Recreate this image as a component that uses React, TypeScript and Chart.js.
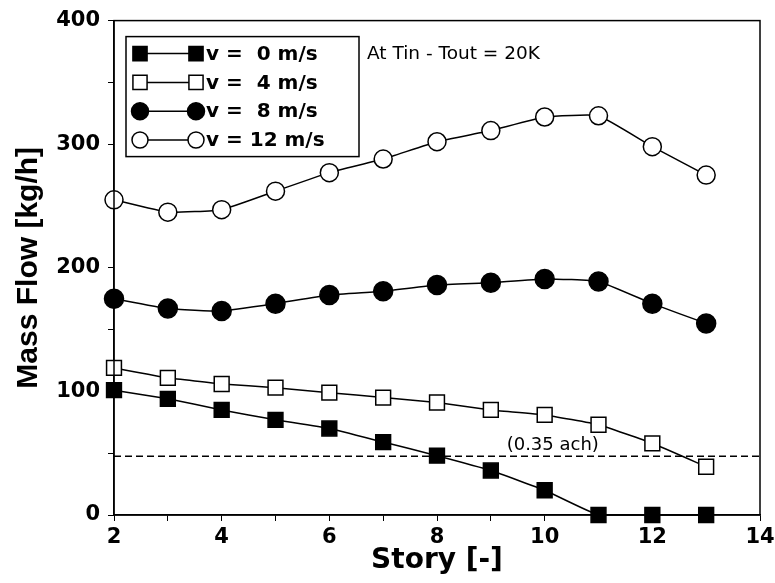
import React, { useEffect, useRef } from "react";
import { Chart, registerables } from "chart.js";

Chart.register(...registerables);

const stories = [2, 3, 4, 5, 6, 7, 8, 9, 10, 11, 12, 13];
const v0 = [101, 94, 85, 77, 70, 59, 48, 36, 20, 0, 0, 0];
const v4 = [119, 111, 106, 103, 99, 95, 91, 85, 81, 73, 58, 39];
const v8 = [175, 167, 165, 171, 178, 181, 186, 188, 191, 189, 171, 155];
const v12 = [255, 245, 247, 262, 277, 288, 302, 311, 322, 323, 298, 275];
const seriesLabels = ["v =  0 m/s", "v =  4 m/s", "v =  8 m/s", "v = 12 m/s"];
const achLevel = 47.5;
const achRange = [2, 14];
const achLabel = "(0.35 ach)";
const noteText = "At Tin - Tout = 20K";
const xTitle = "Story [-]";
const yTitle = "Mass Flow [kg/h]";

const WIDE = "'DejaVu Sans', Verdana, sans-serif";
const ARIAL = "'Liberation Sans', Arial, Helvetica, sans-serif";

export default function App() {
  const ref = useRef<HTMLCanvasElement | null>(null);

  useEffect(() => {
    if (!ref.current) return;
    const mk = (vals: number[]) => stories.map((s, i) => ({ x: s, y: vals[i] }));
    const styles = [
      { data: v0, pointStyle: "rect", bg: "#000", r: 10.5, lr: 10 },
      { data: v4, pointStyle: "rect", bg: "#fff", r: 10.5, lr: 10 },
      { data: v8, pointStyle: "circle", bg: "#000", r: 9.5, lr: 8.5 },
      { data: v12, pointStyle: "circle", bg: "#fff", r: 9, lr: 8 },
    ];
    const datasets: any[] = styles.map((s, i) => ({
      label: seriesLabels[i],
      data: mk(s.data),
      borderColor: "#000",
      borderWidth: 1.5,
      pointStyle: s.pointStyle,
      pointRadius: s.r,
      legendRadius: s.lr,
      pointBackgroundColor: s.bg,
      pointBorderColor: "#000",
      pointBorderWidth: 1.5,
      tension: 0.12,
      clip: false,
    }));
    datasets.unshift({
      label: "ach",
      data: achRange.map((x) => ({ x, y: achLevel })),
      borderColor: "#000",
      borderWidth: 1.5,
      borderDash: [7, 4],
      pointRadius: 0,
      tension: 0,
    });

    function drawMarker(ctx: any, style: string, radius: number, x: number, y: number) {
      ctx.beginPath();
      if (style === "rect") {
        const s = radius / Math.SQRT2;
        ctx.rect(x - s, y - s, 2 * s, 2 * s);
      } else {
        ctx.arc(x, y, radius, 0, Math.PI * 2);
      }
      ctx.fill();
      ctx.stroke();
    }

    const overlay = {
      id: "overlay",
      afterDraw(chart: any) {
        const ctx = chart.ctx;
        const ca = chart.chartArea;
        const xs = chart.scales.x;
        const ys = chart.scales.y;
        ctx.save();
        // frame
        ctx.strokeStyle = "#000";
        ctx.lineWidth = 1.5;
        ctx.strokeRect(ca.left, ca.top, ca.right - ca.left, ca.bottom - ca.top);
        // annotations
        ctx.fillStyle = "#000";
        ctx.font = `18px ${WIDE}`;
        ctx.textAlign = "center";
        ctx.textBaseline = "middle";
        ctx.fillText(achLabel, xs.getPixelForValue(10.15), ys.getPixelForValue(56.5));
        ctx.textAlign = "left";
        ctx.font = `18.5px ${WIDE}`;
        ctx.fillText(noteText, ca.left + 253, ca.top + 34);
        // legend
        const bx = ca.left + 12;
        const by = ca.top + 16;
        const bw = 233;
        const bh = 120;
        ctx.fillStyle = "#fff";
        ctx.fillRect(bx, by, bw, bh);
        ctx.strokeStyle = "#000";
        ctx.lineWidth = 1.5;
        ctx.strokeRect(bx, by, bw, bh);
        const dsList = chart.data.datasets.slice(1);
        dsList.forEach((ds: any, i: number) => {
          const yy = by + 17 + i * 28.8;
          const x1 = bx + 14;
          const x2 = bx + 70;
          ctx.strokeStyle = "#000";
          ctx.lineWidth = 1.5;
          ctx.beginPath();
          ctx.moveTo(x1, yy);
          ctx.lineTo(x2, yy);
          ctx.stroke();
          [x1, x2].forEach((px) => {
            ctx.fillStyle = ds.pointBackgroundColor;
            ctx.strokeStyle = "#000";
            ctx.lineWidth = 1.5;
            drawMarker(ctx, ds.pointStyle, ds.legendRadius, px, yy);
          });
          ctx.fillStyle = "#000";
          ctx.font = `bold 20px ${WIDE}`;
          ctx.textAlign = "left";
          ctx.textBaseline = "middle";
          ctx.fillText(ds.label, bx + 80, yy + 1);
        });
        ctx.restore();
      },
    };

    const chart = new Chart(ref.current, {
      type: "line",
      data: { datasets },
      plugins: [overlay],
      options: {
        animation: false,
        responsive: false,
        maintainAspectRatio: false,
        layout: { padding: { left: 0, right: 0, top: 19, bottom: 0 } },
        plugins: { legend: { display: false }, tooltip: { enabled: false } },
        scales: {
          x: {
            type: "linear",
            min: 2,
            max: 14,
            afterFit: (s: any) => {
              s.height = 68;
              s.paddingRight = 15;
              s.paddingLeft = 0;
            },
            grid: { drawOnChartArea: false, tickLength: 6, color: "#000", lineWidth: 1 },
            border: { color: "#000", width: 1.5 },
            ticks: {
              stepSize: 1,
              color: "#000",
              padding: 4,
              maxRotation: 0,
              autoSkip: false,
              font: { family: WIDE, size: 21, weight: "bold" },
              callback: (v: any) => (Number(v) % 2 === 0 ? String(v) : ""),
            },
            title: {
              display: true,
              text: xTitle,
              color: "#000",
              font: { family: WIDE, size: 28, weight: "bold" },
              padding: { top: 0, bottom: 5 },
            },
          },
          y: {
            min: 0,
            max: 400,
            afterFit: (s: any) => {
              s.width = 114;
            },
            grid: { drawOnChartArea: false, tickLength: 6, color: "#000", lineWidth: 1 },
            border: { color: "#000", width: 1.5 },
            ticks: {
              stepSize: 50,
              color: "#000",
              padding: 8,
              autoSkip: false,
              font: { family: WIDE, size: 21, weight: "bold" },
              callback: (v: any) => (Number(v) % 100 === 0 ? String(v) : ""),
            },
            title: {
              display: true,
              text: yTitle,
              color: "#000",
              font: { family: ARIAL, size: 30, weight: "bold" },
              padding: { top: 11, bottom: 0 },
            },
          },
        },
      } as any,
    });
    return () => chart.destroy();
  }, []);

  return (
    <div style={{ position: "fixed", left: 0, top: 0, width: 775, height: 583, background: "#fff" }}>
      <canvas ref={ref} width={775} height={583} style={{ display: "block" }} />
    </div>
  );
}
